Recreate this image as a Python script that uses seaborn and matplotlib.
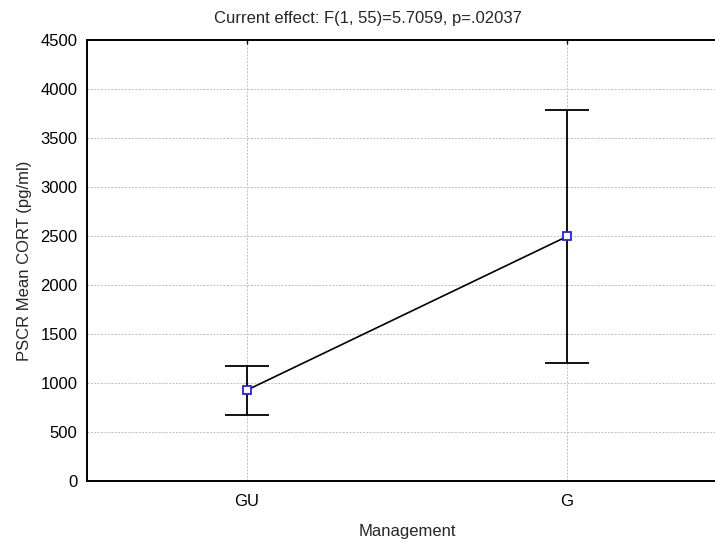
import matplotlib
matplotlib.use("Agg")
import matplotlib.pyplot as plt
import seaborn as sns
import pandas as pd

# Group means and confidence-interval half widths
groups = ["GU", "G"]
mean_cort = [928, 2495]
ci_half = [250, 1295]
y_ticks = [0, 500, 1000, 1500, 2000, 2500, 3000, 3500, 4000, 4500]

sns.set_style("white")
plt.rcParams["font.family"] = ["Liberation Sans", "DejaVu Sans"]

df = pd.DataFrame({"pos": range(len(groups)), "group": groups, "mean": mean_cort, "ci": ci_half})

fig = plt.figure(figsize=(7.15, 5.42), dpi=100)
ax = fig.add_axes([87 / 715, 1 - 481 / 542, (727 - 87) / 715, (481 - 40) / 542])

ax.errorbar(df["pos"], df["mean"], yerr=df["ci"], fmt="none", ecolor="black",
            elinewidth=1.3, capsize=15.5, capthick=1.3, zorder=3)
sns.lineplot(data=df, x="pos", y="mean", ax=ax, color="black", linewidth=1.2,
             marker="s", markersize=5.5, markerfacecolor="white",
             markeredgecolor="#2020ff", markeredgewidth=1.3, zorder=4)

ax.set_xlim(-0.5, 1.5)
ax.set_ylim(0, 4500)
ax.set_xticks(df["pos"])
ax.set_xticklabels(groups)
ax.set_yticks(y_ticks)
ax.set_yticklabels([str(v) for v in y_ticks])

ax.grid(True, color="#bdbdbd", linestyle=(0, (2, 1.5)), linewidth=0.7)
ax.set_axisbelow(True)

for side in ["left", "top", "bottom"]:
    ax.spines[side].set_color("black")
    ax.spines[side].set_linewidth(1.4)
ax.spines["right"].set_visible(False)

ax.tick_params(axis="both", labelsize=12, colors="black", length=3, width=1,
               direction="in", top=True)
ax.tick_params(axis="y", pad=7)
ax.tick_params(axis="x", pad=9)

ax.set_xlabel("Management", fontsize=12, labelpad=11)
ax.set_ylabel("PSCR Mean CORT (pg/ml)", fontsize=12, labelpad=6)
fig.text(368 / 715, 1 - 19 / 542, "Current effect: F(1, 55)=5.7059, p=.02037",
         fontsize=12, ha="center", va="center")

fig.savefig("out.png", dpi=100)
